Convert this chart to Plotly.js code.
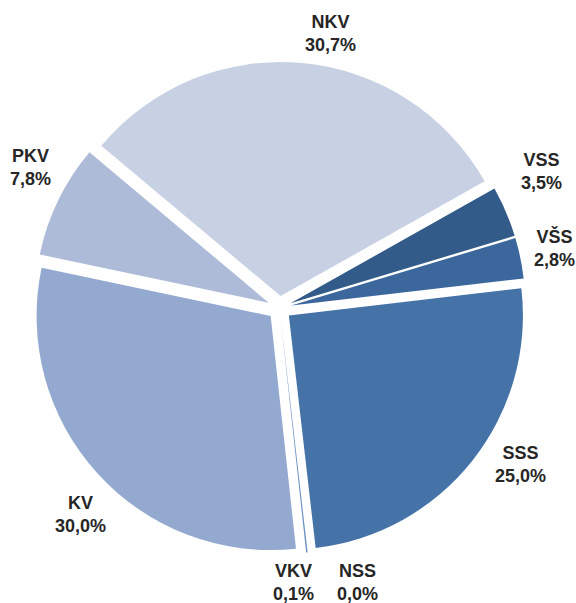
<!DOCTYPE html>
<html>
<head>
<meta charset="utf-8">
<script src="https://cdn.plot.ly/plotly-3.0.1.min.js"></script>
<style>html,body{margin:0;padding:0;background:#fff;}#chart{width:576px;height:603px;}</style>
</head>
<body>
<div id="chart"></div>
<script>
// Data (clockwise from NKV)
const categories = ["NKV", "VSS", "VŠS", "SSS", "NSS", "VKV", "KV", "PKV"];
const shares = [30.7, 3.5, 2.8, 25.0, 0.0, 0.1, 30.0, 7.8];
const sliceColors = ["#c8d1e4", "#335b89", "#3c679c", "#4573a8", "#4f7db3", "#6a8fc4", "#94a9cf", "#adbbd8"];

// Label anchor positions in pixels (layout only)
const labelPos = [[330, 33], [541, 171], [554, 248], [520, 464], [357, 582], [293, 582], [80, 514], [30, 167]];

const W = 576, H = 603;
const margin = {l: 33, r: 50, t: 62, b: 49};
const pw = W - margin.l - margin.r, ph = H - margin.t - margin.b;

const annotations = categories.map((c, i) => ({
  text: c + "<br>" + shares[i].toFixed(1).replace(".", ",") + "%",
  xref: "paper", yref: "paper",
  x: (labelPos[i][0] - margin.l) / pw,
  y: 1 - (labelPos[i][1] - margin.t) / ph,
  xanchor: "center", yanchor: "middle",
  showarrow: false,
  font: {family: "Liberation Sans, Arial, sans-serif", size: 18, color: "#262626", weight: 700}
}));

const trace = {
  type: "pie",
  labels: categories,
  values: shares,
  sort: false,
  direction: "clockwise",
  rotation: -50,
  pull: categories.map(() => 0.051),
  marker: {colors: sliceColors, line: {width: 0}},
  textinfo: "none",
  hoverinfo: "label+percent",
  domain: {x: [0, 1], y: [0, 1]}
};

const layout = {
  width: W, height: H,
  margin: margin,
  showlegend: false,
  paper_bgcolor: "#ffffff",
  plot_bgcolor: "#ffffff",
  annotations: annotations
};

Plotly.newPlot("chart", [trace], layout, {staticPlot: true});
</script>
</body>
</html>
